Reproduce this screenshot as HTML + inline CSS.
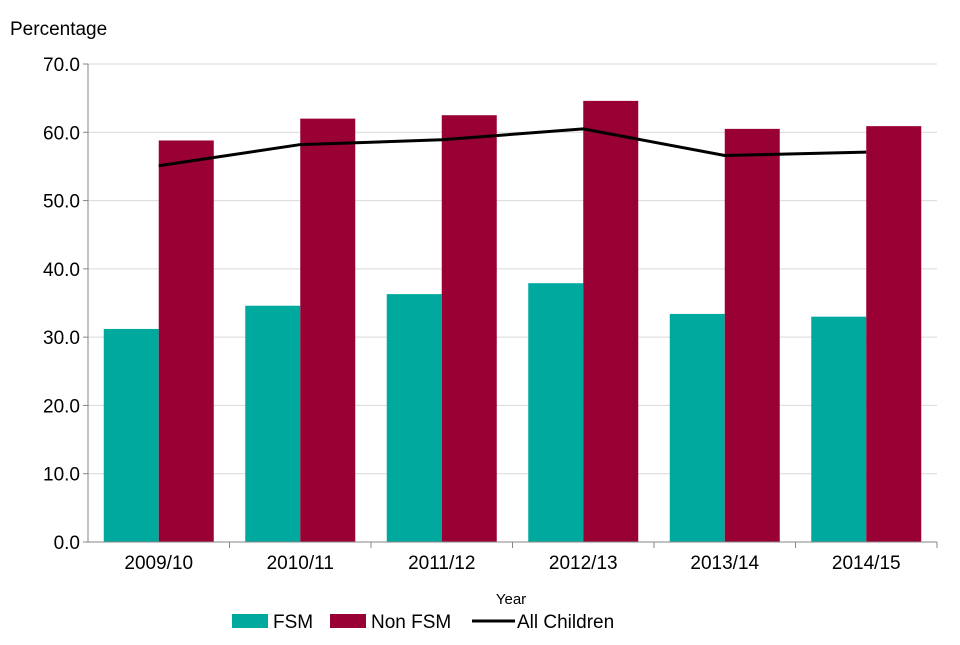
<!DOCTYPE html>
<html><head><meta charset="utf-8"><style>
body{margin:0;background:#fff;font-family:"Liberation Sans",Arial,sans-serif}
svg text{font-family:"Liberation Sans",Arial,sans-serif}
</style></head><body>
<svg id="chart" width="960" height="640" xmlns="http://www.w3.org/2000/svg">
<text x="10" y="35" font-size="19" fill="#000">Percentage</text>
<g id="grid"></g><g id="bars"></g><g id="line"></g><g id="axes"></g>
<text x="511" y="604" font-size="15" text-anchor="middle">Year</text>
<g>
<rect x="232" y="614" width="36" height="14" fill="#00a99d"/>
<text x="273" y="628" font-size="19">FSM</text>
<rect x="330" y="614" width="36" height="14" fill="#990033"/>
<text x="371" y="628" font-size="19">Non FSM</text>
<line x1="472" y1="621" x2="515" y2="621" stroke="#000" stroke-width="3"/>
<text x="517" y="628" font-size="19">All Children</text>
</g>
</svg>
<script>
const categories=["2009/10","2010/11","2011/12","2012/13","2013/14","2014/15"];
const fsm=[31.2,34.6,36.3,37.9,33.4,33.0];
const nonFsm=[58.8,62.0,62.5,64.6,60.5,60.9];
const allChildren=[55.1,58.2,58.9,60.5,56.6,57.1];
const yTicks=[0,10,20,30,40,50,60,70];
const NS="http://www.w3.org/2000/svg";
const x0=88,x1=937,y0=542,yTop=64,yMax=70;
const bw=(x1-x0)/categories.length,barW=55;
const y=v=>y0-(v/yMax)*(y0-yTop);
const cx=i=>x0+bw*(i+0.5);
function mk(t,a,p){const e=document.createElementNS(NS,t);for(const k in a)e.setAttribute(k,a[k]);p.appendChild(e);return e;}
const grid=document.getElementById('grid'),bars=document.getElementById('bars'),line=document.getElementById('line'),axes=document.getElementById('axes');
yTicks.forEach(v=>{
 if(v>0){const g=mk('line',{x1:x0,x2:x1,y1:y(v),y2:y(v),stroke:'#d9d9d9','stroke-width':1},grid);
 
 }
 const t=mk('text',{x:x0-8,y:y(v)+7,'font-size':19,'text-anchor':'end'},axes);t.textContent=v.toFixed(1);
 
 
 const tk=mk('line',{x1:x0-5,x2:x0,y1:y(v),y2:y(v),stroke:'#868686'},axes);
 
 
});
categories.forEach((c,i)=>{
 const a=mk('rect',{x:cx(i)-barW,y:y(fsm[i]),width:barW,height:y0-y(fsm[i]),fill:'#00a99d'},bars);
 
 
 const b=mk('rect',{x:cx(i),y:y(nonFsm[i]),width:barW,height:y0-y(nonFsm[i]),fill:'#990033'},bars);
 
 
 const t=mk('text',{x:cx(i),y:y0+27,'font-size':19,'text-anchor':'middle'},axes);t.textContent=c;
 
 
 const tk=mk('line',{x1:x0+bw*(i+1),x2:x0+bw*(i+1),y1:y0,y2:y0+6,stroke:'#868686'},axes);
 
 
});
const pl=mk('polyline',{points:allChildren.map((v,i)=>cx(i)+','+y(v)).join(' '),fill:'none',stroke:'#000','stroke-width':3},line);


const ya=mk('line',{x1:x0,x2:x0,y1:yTop,y2:y0,stroke:'#868686'},axes);


const xa=mk('line',{x1:x0,x2:x1,y1:y0,y2:y0,stroke:'#868686'},axes);


</script>
</body></html>
